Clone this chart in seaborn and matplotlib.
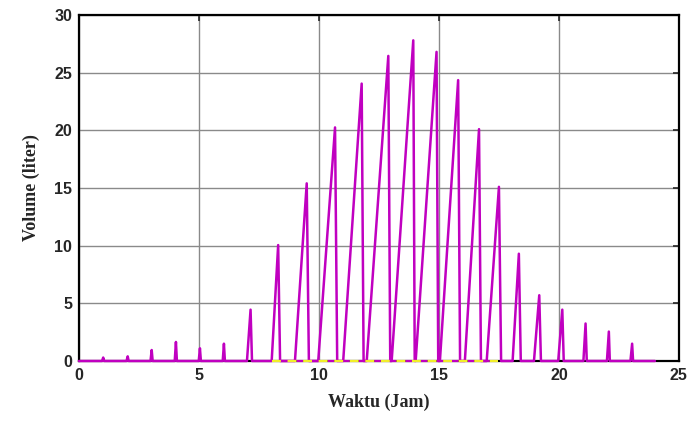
import numpy as np
import pandas as pd
import matplotlib
matplotlib.use("Agg")
import matplotlib.pyplot as plt
import seaborn as sns

# peaks: rise start, peak time, peak volume, drop end (hours / liter)
rise_start = [0.96, 1.98, 2.98, 3.99, 4.99, 5.99, 7.00, 8.03, 9.00, 9.97, 11.01, 11.99,
              13.03, 14.03, 15.04, 16.08, 16.99, 18.07, 18.96, 19.97, 21.02, 22.00, 22.98]
peak_time = [1.01, 2.03, 3.03, 4.04, 5.04, 6.04, 7.15, 8.30, 9.49, 10.67, 11.78, 12.89,
             13.93, 14.90, 15.80, 16.67, 17.50, 18.33, 19.18, 20.14, 21.11, 22.08, 23.05]
peak_vol = [0.3, 0.4, 0.95, 1.65, 1.1, 1.5, 4.45, 10.05, 15.4, 20.25, 24.05, 26.45,
            27.8, 26.8, 24.35, 20.1, 15.1, 9.3, 5.7, 4.45, 3.25, 2.55, 1.5]
drop_end = [1.05, 2.07, 3.07, 4.08, 5.08, 6.08, 7.21, 8.38, 9.58, 10.76, 11.86, 12.97,
            13.99, 14.97, 15.88, 16.75, 17.59, 18.41, 19.25, 20.20, 21.16, 22.12, 23.09]
t_end = 24.0

# zero-volume band (yellow) seen along the bottom during daytime
yellow_t = [8.05, 17.45]
yellow_v = [0.0, 0.0]

t = [0.0]
v = [0.0]
for a, b, c, d in zip(rise_start, peak_time, peak_vol, drop_end):
    t += [a, b, d]
    v += [0.0, c, 0.0]
t.append(t_end)
v.append(0.0)
df = pd.DataFrame({"Waktu": t, "Volume": v})

sns.set_style("white")
fig = plt.figure(figsize=(6.88, 4.23), dpi=100)
ax = fig.add_axes([0.1148, 0.1466, 0.872, 0.818])

sns.lineplot(data=df, x="Waktu", y="Volume", sort=False, estimator=None,
             color="#C000C0", linewidth=1.8, ax=ax)
for ln in ax.get_lines():
    ln.set_clip_on(False)
    ln.set_zorder(5)
yl, = ax.plot(yellow_t, yellow_v, color="#F2EE2A", gapcolor="#C000C0", linewidth=1.6,
              linestyle=(0, (4, 3)), zorder=6)
yl.set_clip_on(False)

ax.set_xlim(0, 25)
ax.set_ylim(0, 30)
ax.set_xticks([0, 5, 10, 15, 20, 25])
ax.set_yticks([0, 5, 10, 15, 20, 25, 30])
ax.grid(True, color="#8a8a8a", linewidth=1.0)
ax.set_axisbelow(True)
for s in ax.spines.values():
    s.set_visible(True)
    s.set_color("black")
    s.set_linewidth(1.6)
ax.tick_params(direction="in", length=4, width=1.2, top=True, right=True,
               labelsize=11.5, pad=5)
for lab in ax.get_xticklabels() + ax.get_yticklabels():
    lab.set_fontfamily("Liberation Sans")
    lab.set_fontweight("bold")

ax.set_xlabel("Waktu (Jam)", fontfamily="Liberation Serif", fontweight="bold",
              fontsize=13, labelpad=8)
ax.set_ylabel("Volume (liter)", fontfamily="Liberation Serif", fontweight="bold",
              fontsize=13, labelpad=10)

fig.savefig("out.png", dpi=100)
